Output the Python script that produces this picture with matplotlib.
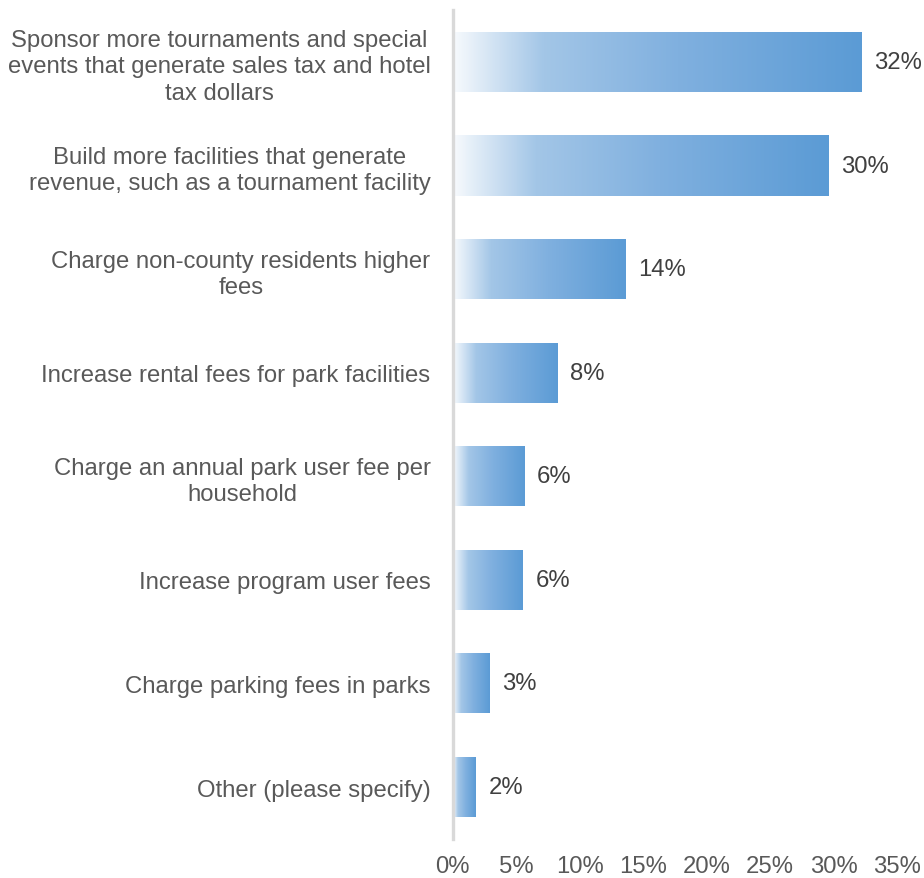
import matplotlib
matplotlib.use("Agg")
import matplotlib.pyplot as plt
import numpy as np
from matplotlib.colors import LinearSegmentedColormap

categories = [
    "Sponsor more tournaments and special\nevents that generate sales tax and hotel\ntax dollars",
    "Build more facilities that generate\nrevenue, such as a tournament facility",
    "Charge non-county residents higher\nfees",
    "Increase rental fees for park facilities",
    "Charge an annual park user fee per\nhousehold",
    "Increase program user fees",
    "Charge parking fees in parks",
    "Other (please specify)",
]
values = [32.2, 29.6, 13.6, 8.2, 5.6, 5.5, 2.9, 1.8]
labels = ["32%", "30%", "14%", "8%", "6%", "6%", "3%", "2%"]
xticks = [0, 5, 10, 15, 20, 25, 30, 35]

plt.rcParams['font.family'] = ['Liberation Sans', 'DejaVu Sans']
label_color = '#595959'
value_color = '#404040'
fs = 17.2

fig = plt.figure(figsize=(9.24, 8.79), dpi=100)
ax = fig.add_axes([0.490, 0.0446, 0.481, 0.9427])

cmap = LinearSegmentedColormap.from_list(
    'g', [(0, '#F7FAFD'), (0.22, '#A3C6E7'), (0.55, '#80B0DF'), (1, '#5B9BD5')])
grad = np.linspace(0, 1, 256).reshape(1, -1)

y = np.arange(len(categories))
bars = ax.barh(y, values, height=0.58, color='none', edgecolor='none')
for b in bars:
    x0, y0 = b.get_x(), b.get_y()
    w, h = b.get_width(), b.get_height()
    im = ax.imshow(grad, cmap=cmap, aspect='auto', extent=[x0, x0 + w, y0 + h, y0],
                   interpolation='bilinear', zorder=2)
    im.set_clip_path(b)

for yi, v, lab in zip(y, values, labels):
    ax.text(v + 1.0, yi, lab, va='center', ha='left', fontsize=fs, color=value_color)

ax.set_xlim(0, 35)
ax.set_ylim(len(categories) - 0.5, -0.5)
ax.set_xticks(xticks)
ax.set_xticklabels([f"{t}%" for t in xticks], fontsize=fs, color=label_color)
ax.set_yticks(y)
ax.set_yticklabels(categories, fontsize=fs, color=label_color, multialignment='center',
                   linespacing=1.24)
ax.tick_params(axis='both', length=0)
ax.tick_params(axis='y', pad=16)
ax.tick_params(axis='x', pad=12)
for s in ['top', 'right', 'bottom']:
    ax.spines[s].set_visible(False)
ax.spines['left'].set_color('#D9D9D9')
ax.spines['left'].set_linewidth(2.4)
ax.spines['left'].set_zorder(3)

fig.savefig('out.png', dpi=100)
